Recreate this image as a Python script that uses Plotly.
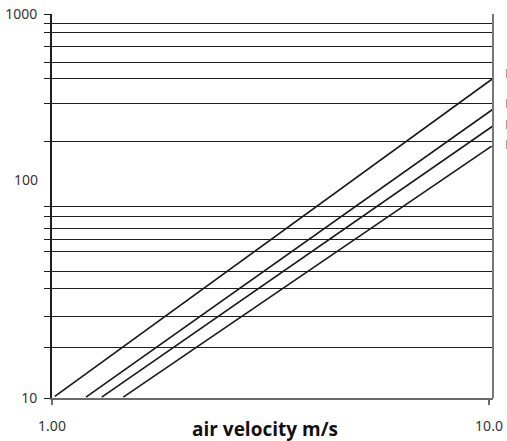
import plotly.graph_objects as go

# ---- data ----
series_names = ["F9", "F8", "F7", "M6"]
velocity_start = [1.015, 1.196, 1.30, 1.456]
velocity_end = [10.21, 10.21, 10.21, 10.14]
pressure_start = [10.2, 10.1, 10.1, 10.1]
pressure_end = [462, 319, 261, 205]

grid_values = [10, 18.4, 26.5, 37, 45.7, 57.8, 66.8, 76.7, 87.7, 99,
               216, 340, 462, 562, 681, 803, 894, 1000]
grid_labels = ["10"] + [""] * 16 + ["1000"]
mid_label = "100"

x_tick_vals = [1, 10]
x_tick_text = ["1.00", "10.0"]
x_title = "air velocity m/s"

# ---- layout constants (window pixels) ----
W, H = 507, 441
PLOT_L, PLOT_R, PLOT_T, PLOT_B = 52, 493, 14, 398
ML, MT = PLOT_L, PLOT_T
MR, MB = W - PLOT_R, H - PLOT_B
PW, PH = PLOT_R - PLOT_L, PLOT_B - PLOT_T

def px_to_paper_y(py):
    return (PLOT_B - py) / PH

def px_to_paper_x(px):
    return (px - PLOT_L) / PW

fig = go.Figure()
for i, name in enumerate(series_names):
    fig.add_trace(go.Scatter(
        x=[velocity_start[i], velocity_end[i]],
        y=[pressure_start[i], pressure_end[i]],
        mode="lines", name=name,
        line=dict(color="#1a1a1a", width=1.7),
        showlegend=False, hoverinfo="skip", cliponaxis=False,
    ))

fig.update_layout(
    width=W, height=H,
    margin=dict(l=ML, r=MR, t=MT, b=MB, pad=0, autoexpand=False),
    paper_bgcolor="white", plot_bgcolor="white",
    font=dict(family="Noto Sans, Open Sans, sans-serif", color="#333333", size=14),
)

fig.update_xaxes(
    type="log", range=[0, 1.00915],
    tickvals=x_tick_vals, ticktext=x_tick_text,
    showgrid=False, zeroline=False,
    showline=True, linecolor="#6a6a6a", linewidth=2,
    ticks="outside", ticklen=5, tickcolor="#6a6a6a", tickwidth=1.5,
    ticklabelstandoff=9, ticklabeloverflow="allow",
    tickfont=dict(size=14, color="#333333"),
    automargin=False,
)
fig.update_yaxes(
    type="log", range=[1, 3],
    tickvals=grid_values, ticktext=grid_labels,
    showgrid=True, gridcolor="#1e1e1e", gridwidth=1.3,
    zeroline=False,
    showline=True, linecolor="#1e1e1e", linewidth=2,
    ticks="outside", ticklen=6, tickcolor="#1e1e1e", tickwidth=1.3,
    ticklabelstandoff=4, ticklabeloverflow="allow",
    tickfont=dict(size=14, color="#333333"),
    automargin=False,
)

# right border
fig.add_shape(type="line", xref="paper", yref="paper", x0=1, x1=1, y0=0, y1=1,
              line=dict(color="#777777", width=2))

# "100" label placed as in the reference
fig.add_annotation(text=mid_label, xref="paper", yref="paper",
                   x=px_to_paper_x(40), y=px_to_paper_y(179),
                   xanchor="right", yanchor="middle", showarrow=False,
                   font=dict(size=14, color="#333333"))

# x-axis title
fig.add_annotation(text="<b>" + x_title + "</b>", xref="paper", yref="paper",
                   x=px_to_paper_x(264.5), y=px_to_paper_y(429),
                   xanchor="center", yanchor="middle", showarrow=False,
                   font=dict(size=19, color="#111111", family="Open Sans, sans-serif"))

# series labels at the right edge (clipped by the page edge, as in the reference)
label_px_y = [73.5, 103, 124, 144]
for name, py in zip(series_names, label_px_y):
    fig.add_annotation(text=name, xref="paper", yref="paper",
                       x=px_to_paper_x(503), y=px_to_paper_y(py),
                       xanchor="left", yanchor="middle", showarrow=False,
                       font=dict(size=13, color="#777777"))

fig.write_html(
    "out.html",
    config={"displayModeBar": False},
    post_script="document.body.style.margin='0';document.body.style.overflow='hidden';",
)
